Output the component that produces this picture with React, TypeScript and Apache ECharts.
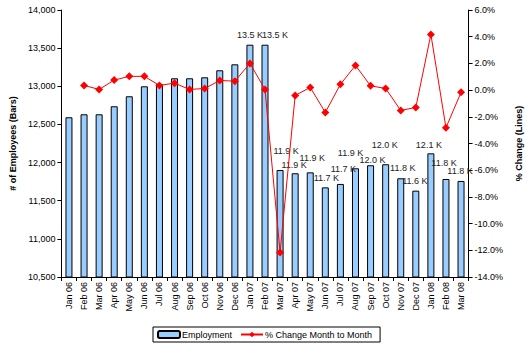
import React, { useEffect, useRef } from "react";
import * as echarts from "echarts";

const categories = [
  "Jan 06", "Feb 06", "Mar 06", "Apr 06", "May 06", "Jun 06", "Jul 06", "Aug 06", "Sep 06",
  "Oct 06", "Nov 06", "Dec 06", "Jan 07", "Feb 07", "Mar 07", "Apr 07", "May 07", "Jun 07",
  "Jul 07", "Aug 07", "Sep 07", "Oct 07", "Nov 07", "Dec 07", "Jan 08", "Feb 08", "Mar 08",
];

const employment = [
  12594, 12633, 12633, 12738, 12869, 13000, 13030, 13105, 13105,
  13118, 13210, 13288, 13545, 13545, 11903, 11860, 11872, 11675,
  11720, 11925, 11965, 11978, 11794, 11632, 12121, 11785, 11759,
];

const pctChange = [
  null, 0.35, 0.05, 0.75, 1.03, 1.03, 0.35, 0.52, 0.05,
  0.12, 0.72, 0.67, 2.0, 0.05, -12.16, -0.4, 0.2, -1.67,
  0.43, 1.85, 0.32, 0.12, -1.52, -1.3, 4.17, -2.82, -0.17,
];

// value labels are shown from this category on
const firstLabelled = 12;
// manual nudges of the value labels (pixels), as in the reference
const labelNudgeX = [0, 10, 6, -1, 2, 1, 3, -5, 2, -1, 2, -1, -2, -2, -1];
const labelNudgeY = [0, 0, -9, 1, -5, 0, -5, -6, 4, -10, -1, 0, 1, -6, 0];

const leftTicks = { min: 10500, max: 14000, interval: 500 };
const rightTicks = { min: -14, max: 6, interval: 2 };

const FONT = "'Liberation Sans', Arial, sans-serif";

export default function App() {
  const ref = useRef<HTMLDivElement>(null);
  useEffect(() => {
    if (!ref.current) return;
    const chart = echarts.init(ref.current, undefined, { renderer: "svg" });
    const barData = employment.map((v, i) => {
      const k = i - firstLabelled;
      if (k < 0) return { value: v, label: { show: false } };
      return {
        value: v,
        label: { show: true, offset: [labelNudgeX[k] || 0, labelNudgeY[k] || 0] },
      };
    });
    chart.setOption({
      animation: false,
      textStyle: { fontFamily: FONT },
      grid: { left: 53, right: 52, top: 10, bottom: 66, containLabel: false },
      legend: {
        bottom: 1,
        left: 153,
        data: ["Employment", "% Change Month to Month"],
        borderColor: "#000",
        borderWidth: 1,
        borderRadius: 0,
        padding: [3, 8, 3, 4],
        itemGap: 8,
        itemWidth: 22,
        itemHeight: 7,
        textStyle: { fontFamily: FONT, fontSize: 9, color: "#000", padding: [0, 0, 0, -3] },
      },
      xAxis: {
        type: "category",
        data: categories,
        axisLine: { onZero: false, lineStyle: { color: "#000", width: 1 } },
        axisTick: { show: true, inside: false, length: 4, alignWithLabel: false, lineStyle: { color: "#000" } },
        axisLabel: { rotate: 90, fontSize: 9, color: "#000", fontFamily: FONT, margin: 5 },
      },
      yAxis: [
        {
          type: "value",
          min: leftTicks.min,
          max: leftTicks.max,
          interval: leftTicks.interval,
          name: "# of Employees (Bars)",
          nameLocation: "middle",
          nameGap: 40,
          nameTextStyle: { fontSize: 9, fontWeight: "bold", color: "#000", fontFamily: FONT },
          axisLine: { show: true, lineStyle: { color: "#000" } },
          axisTick: { show: true, length: 4, lineStyle: { color: "#000" } },
          splitLine: { show: false },
          axisLabel: {
            fontSize: 9,
            color: "#000",
            fontFamily: FONT,
            margin: 6,
            formatter: (v: number) => v.toLocaleString("en-US"),
          },
        },
        {
          type: "value",
          position: "right",
          min: rightTicks.min,
          max: rightTicks.max,
          interval: rightTicks.interval,
          name: "% Change (Lines)",
          nameLocation: "middle",
          nameGap: 40,
          nameRotate: 90,
          nameTextStyle: { fontSize: 9, fontWeight: "bold", color: "#000", fontFamily: FONT },
          axisLine: { show: true, lineStyle: { color: "#000" } },
          axisTick: { show: true, length: 4, lineStyle: { color: "#000" } },
          splitLine: { show: false },
          axisLabel: {
            fontSize: 9,
            color: "#000",
            fontFamily: FONT,
            margin: 6,
            formatter: (v: number) => v.toFixed(1) + "%",
          },
        },
      ],
      series: [
        {
          name: "Employment",
          type: "bar",
          yAxisIndex: 0,
          data: barData,
          barWidth: 7,
          itemStyle: { color: "#99CCFF", borderColor: "#000", borderWidth: 1 },
          label: {
            position: "top",
            distance: 5,
            fontSize: 9,
            color: "#222",
            fontFamily: FONT,
            formatter: (p: any) => (Math.round(p.value / 100) / 10).toFixed(1) + " K",
          },
          z: 1,
        },
        {
          name: "% Change Month to Month",
          type: "line",
          yAxisIndex: 1,
          data: pctChange,
          symbol: "diamond",
          symbolSize: 8,
          lineStyle: { color: "#FF0000", width: 1 },
          itemStyle: { color: "#FF0000" },
          z: 3,
        },
      ],
    });
    return () => chart.dispose();
  }, []);
  return <div ref={ref} style={{ width: 531, height: 343, position: "absolute", left: 0, top: 0 }} />;
}
